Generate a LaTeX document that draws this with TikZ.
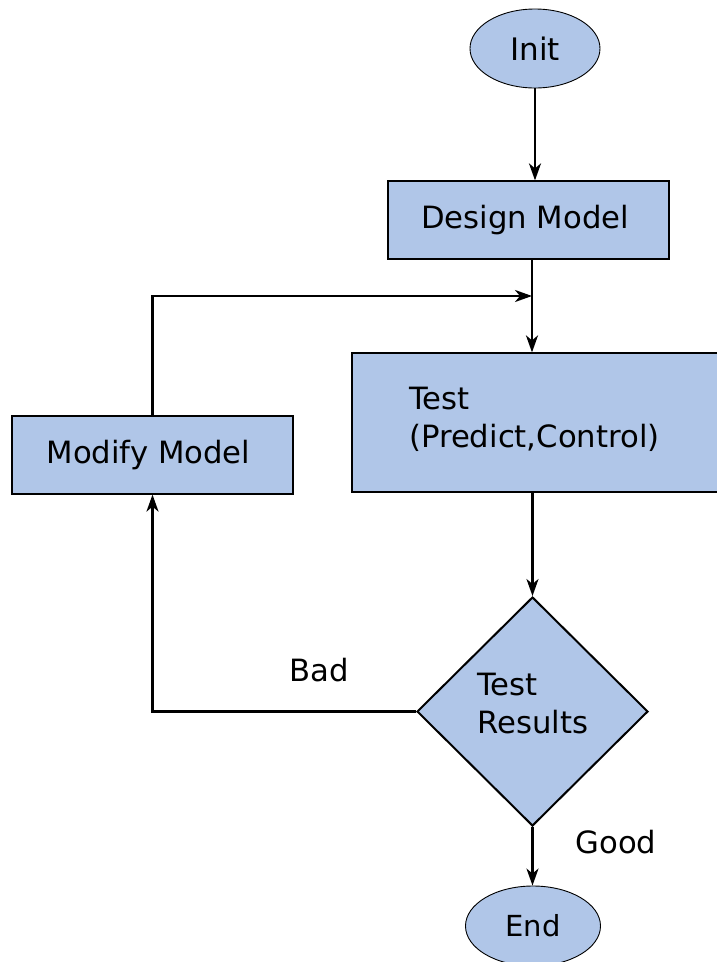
\documentclass[tikz,border=0pt]{standalone}
\usepackage{fontspec}
\setmainfont{DejaVu Sans}
\usetikzlibrary{shapes.geometric,arrows.meta}
\definecolor{boxfill}{RGB}{176,198,232}
\tikzset{
  box/.style={draw=black, line width=1.2pt, fill=boxfill, inner sep=0pt},
  termnode/.style={ellipse, draw=black, line width=0.9pt, fill=boxfill, inner sep=0pt},
  decision/.style={diamond, draw=black, line width=2pt, fill=boxfill, inner sep=0pt},
  flow/.style={line width=2.3pt, -{Stealth[length=17pt, width=12pt, inset=5pt]}},
  lbl/.style={font=\fontsize{30.7}{38}\selectfont, inner sep=0pt},
}
\begin{document}
\begin{tikzpicture}[x=1pt, y=-1pt]
  \useasboundingbox (0,0) rectangle (716,962);
  \fill[white] (0,0) rectangle (716,962);

  % terminals
  \node[termnode, minimum width=130pt, minimum height=79pt,
        font=\fontsize{31}{36}\selectfont] (init) at (535,48.5) {Init};
  \node[termnode, minimum width=135pt, minimum height=80pt,
        font=\fontsize{29}{34}\selectfont] (end) at (533,926) {End};

  % process boxes (labels sit a little left of centre)
  \node[box, minimum width=281pt, minimum height=78pt, lbl] (design) at (528.5,220)
    {Design Model\hspace*{7pt}};
  \node[box, minimum width=372pt, minimum height=139pt] (test) at (538,422.5) {};
  \node[lbl, anchor=west, align=left] (testtxt) at (409,419) {Test\\(Predict,Control)};
  \node[box, minimum width=281pt, minimum height=78pt, lbl] (modify) at (152.5,455)
    {Modify Model\hspace*{8pt}};

  % decision
  \node[decision, minimum width=231pt, minimum height=229pt] (check) at (532.5,711.5) {};
  \node[lbl, anchor=west, align=left] (checktxt) at (477,704) {Test\\Results};

  % branch labels
  \node[lbl] (bad) at (319,670) {Bad};
  \node[lbl] (good) at (616,842) {Good};

  % connectors
  \coordinate (merge) at (532,296);
  \draw[flow] (init.south) -- (design.north -| init.south);
  \draw[flow] (design.south -| merge) -- (test.north -| merge);
  \draw[flow] (modify.north) |- (merge);
  \draw[flow] (test.south -| check.north) -- (check.north);
  \draw[flow] (check.west) -| (modify.south);
  \draw[flow] (check.south) -- (end.north -| check.south);
\end{tikzpicture}
\end{document}
